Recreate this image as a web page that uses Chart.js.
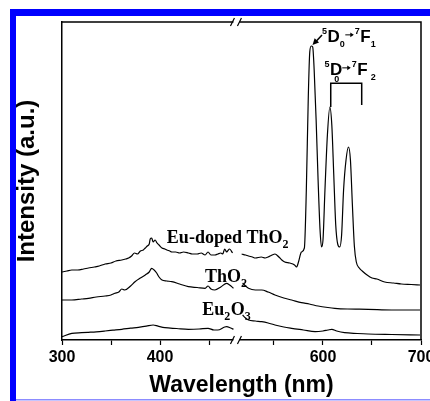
<!DOCTYPE html>
<html>
<head>
<meta charset="utf-8">
<script src="https://cdn.jsdelivr.net/npm/chart.js@4.4.0/dist/chart.umd.min.js"></script>
<style>
  html, body { margin: 0; padding: 0; background: #fff; overflow: hidden; }
  canvas { display: block; }
</style>
</head>
<body>
<canvas id="chart" width="460" height="401"></canvas>
<script>
// --- Broken x axis: points above BREAK_AT are moved left by BREAK_SHIFT ---
const BREAK_AT = 478;
const BREAK_SHIFT = 33.7;

// --- Data (wavelength nm / intensity a.u.) ---
const euDopedLeftNm  = [300, 305, 310, 316, 322, 327, 333, 338, 344, 350, 355, 361, 365, 368, 371, 374, 377, 380, 383, 385, 387, 389, 390, 391.5, 393, 395, 397, 399, 402, 405, 407, 410, 412, 416, 420, 424, 429, 433, 438, 442, 446, 449, 452, 456, 459, 462, 464, 466, 468, 469, 471, 474];
const euDopedLeftInt = [68, 69, 70, 70, 71, 72, 73, 74, 76, 77, 79, 80, 81, 82, 84, 87, 86, 89, 90, 92, 94, 96, 101, 102, 98, 100, 97, 95, 92, 91, 90, 89, 88, 88, 87, 88, 87, 86, 86, 87, 85, 88, 85, 85, 86, 87, 86, 91, 88, 89, 91, 87];
const euDopedRightNm  = [517, 521, 524, 528, 531, 537, 541, 544, 548, 551, 555, 558, 561, 566, 571, 573, 575, 578, 581, 583, 585, 586.5, 588, 589.5, 591, 593, 595, 597, 598.5, 600, 602, 604.5, 607, 609, 611, 613, 615, 617, 619, 621, 623.5, 626, 628, 630, 632, 634, 637, 640, 645, 650, 655, 663, 672, 680, 690, 699];
const euDopedRightInt = [86, 85, 84, 83, 82, 83, 82, 83, 85, 86, 83, 80, 78, 77, 75, 73, 78, 88, 92, 150, 243, 288, 294, 293, 270, 220, 160, 110, 93, 100, 150, 205, 233, 215, 165, 115, 96, 93, 105, 150, 180, 193, 180, 135, 94, 78, 72, 69, 65, 62, 61, 58, 57, 56, 55.5, 55];

const tho2LeftNm  = [300, 310, 320, 327, 335, 344, 350, 354, 358, 361, 364, 370, 374.5, 380, 385, 389, 391.5, 394, 396.6, 399, 402, 407, 412, 420, 429, 438, 446, 449, 452, 456, 462, 468, 471, 475];
const tho2LeftInt = [40, 40, 41, 41.7, 43, 44, 45, 46.7, 48, 51, 50, 54, 58.3, 62, 65, 68, 71.7, 70, 67, 63, 60, 59, 58.3, 56, 53.3, 52.5, 51.7, 54, 51, 50, 53, 56.7, 55, 51.7];
const tho2RightNm  = [518, 521, 524, 531, 537.5, 544, 551, 560, 568, 578, 586, 595, 605, 612, 625, 646, 670, 699];
const tho2RightInt = [57, 54, 51.7, 50, 50, 48, 45, 42, 40, 37.3, 36, 34, 32.5, 31.7, 31, 30.7, 30, 30];

const eu2o3LeftNm  = [300, 310, 320, 327, 335, 344, 352, 361, 370, 378, 386, 393, 398, 405, 417, 429, 440, 449, 455, 459, 466, 468, 472, 475];
const eu2o3LeftInt = [3.3, 6.7, 7.3, 7.7, 8.2, 9, 9.8, 10.7, 11.8, 12.7, 13.8, 15, 13.8, 12.3, 11.5, 10.7, 11, 11.7, 10, 10, 13, 13.3, 12, 10.7];
const eu2o3RightNm  = [518, 521, 524, 531, 537.5, 544, 551, 560, 568, 580, 592, 600, 605, 609, 614, 622, 635, 646, 670, 699];
const eu2o3RightInt = [25, 22, 20, 19, 18.3, 17, 15, 13, 11.7, 10, 8.3, 9, 10, 10.7, 9, 7.3, 6.5, 6, 5.5, 5];

// --- Axis ticks ---
const tickNm = [300, 350, 400, 450, 550, 600, 650, 700];
const labelNm = [300, 400, 600, 700];

const toAxis = nm => nm > BREAK_AT ? nm - BREAK_SHIFT : nm;
const fromAxis = u => u > BREAK_AT ? u + BREAK_SHIFT : u;

function buildSeries(lNm, lInt, rNm, rInt) {
  const pts = lNm.map((w, i) => ({ x: toAxis(w), y: lInt[i] }));
  pts.push({ x: BREAK_AT, y: null });
  rNm.forEach((w, i) => pts.push({ x: toAxis(w), y: rInt[i] }));
  return pts;
}

const SANS = '"Liberation Sans", Arial, sans-serif';
const SERIF = '"Liberation Serif", "Times New Roman", serif';

// --- Rich text helper (sub/superscripts) ---
function drawRich(c, parts, x, y, size, small, family) {
  let cx = x;
  parts.forEach(p => {
    const [t, kind, dx = 0, dy = 0, noAdv = false] = p;
    if (kind === 'arrow') {
      const ay = y - size * 0.42 + dy;
      c.beginPath();
      c.moveTo(cx, ay); c.lineTo(cx + 7, ay); c.stroke();
      c.beginPath();
      c.moveTo(cx + 8.5, ay); c.lineTo(cx + 5, ay - 2.3); c.lineTo(cx + 5, ay + 2.3); c.closePath(); c.fill();
      cx += 9.5;
      return;
    }
    let fy = y;
    if (kind === 'sup') { c.font = 'bold ' + small + 'px ' + family; fy = y - size * 0.45; }
    else if (kind === 'sub') { c.font = 'bold ' + small + 'px ' + family; fy = y + size * 0.3; }
    else c.font = 'bold ' + size + 'px ' + family;
    c.fillText(t, cx + dx, fy + dy);
    if (!noAdv) cx += c.measureText(t).width + (kind ? 0.5 : 0);
  });
}

const decor = {
  id: 'decor',
  beforeDraw(chart) {
    const c = chart.ctx;
    c.save();
    c.fillStyle = '#fff';
    c.fillRect(0, 0, chart.width, chart.height);
    c.fillStyle = '#0000ff';
    c.fillRect(10, 9, 6, chart.height - 9);
    c.fillRect(10, 9, chart.width - 10, 7);
    c.fillStyle = '#8c8cff';
    c.fillRect(16, 399, chart.width - 16, 1.5);
    c.restore();
  },
  afterDraw(chart) {
    const c = chart.ctx;
    const a = chart.chartArea;
    const xs = chart.scales.x, ys = chart.scales.y;
    const px = nm => xs.getPixelForValue(toAxis(nm));
    const py = v => ys.getPixelForValue(v);
    c.save();
    c.strokeStyle = '#000'; c.fillStyle = '#000';
    c.lineWidth = 1.5;
    // top and right frame
    c.beginPath();
    c.moveTo(a.left, a.top); c.lineTo(a.right, a.top); c.lineTo(a.right, a.bottom);
    c.stroke();
    // axis break marks
    const bx = xs.getPixelForValue(BREAK_AT);
    [a.top, a.bottom].forEach(by => {
      c.fillStyle = '#fff';
      c.fillRect(bx - 3, by - 2, 6, 4);
      c.fillStyle = '#000';
      c.lineWidth = 1.2;
      c.beginPath();
      c.moveTo(bx - 6, by + 4); c.lineTo(bx - 2, by - 4);
      c.moveTo(bx + 1, by + 4); c.lineTo(bx + 5, by - 4);
      c.stroke();
    });

    // sample labels
    c.textBaseline = 'alphabetic';
    c.textAlign = 'left';
    drawRich(c, [['Eu-doped ThO', ''], ['2', 'sub']], px(407), py(97), 18, 12, SERIF);
    drawRich(c, [['ThO', ''], ['2', 'sub']], px(446), py(58), 18, 12, SERIF);
    drawRich(c, [['Eu', ''], ['2', 'sub'], ['O', ''], ['3', 'sub']], px(443), py(25), 18, 12, SERIF);

    // transition labels
    c.lineWidth = 1;
    drawRich(c, [['5', 'sup'], ['D', ''], ['0', 'sub'], ['', 'arrow'], ['7', 'sup'], ['F', ''], ['1', 'sub']], px(599), py(298), 17, 9, SANS);
    drawRich(c, [['5', 'sup'], ['D', ''], ['0', 'sub', -8, 2, true], ['', 'arrow'], ['7', 'sup'], ['F', ''], [' ', 'sub'], ['2', 'sub']], px(601.5), py(265), 17, 9, SANS);

    // arrow to first peak
    c.lineWidth = 1.5;
    const x0 = px(599), y0 = py(305), x1 = px(589.3), y1 = py(295);
    c.beginPath(); c.moveTo(x0, y0); c.lineTo(x1 + 3, y1 - 3); c.stroke();
    const ang = Math.atan2(y1 - y0, x1 - x0);
    c.beginPath();
    c.moveTo(x1, y1);
    c.lineTo(x1 - 7 * Math.cos(ang - 0.45), y1 - 7 * Math.sin(ang - 0.45));
    c.lineTo(x1 - 7 * Math.cos(ang + 0.45), y1 - 7 * Math.sin(ang + 0.45));
    c.closePath(); c.fill();

    // bracket over 7F2 peaks
    c.lineWidth = 1.5;
    c.beginPath();
    c.moveTo(px(607.9), py(233)); c.lineTo(px(607.9), py(256.7));
    c.lineTo(px(639.5), py(256.7)); c.lineTo(px(639.5), py(235));
    c.stroke();
    c.restore();
  }
};

Chart.defaults.color = '#000';

const lineStyle = { borderColor: '#000', borderWidth: 1.2, pointRadius: 0, fill: false, spanGaps: false, cubicInterpolationMode: 'monotone' };

const chart = new Chart(document.getElementById('chart').getContext('2d'), {
  type: 'line',
  data: {
    datasets: [
      { label: 'Eu-doped ThO2', data: buildSeries(euDopedLeftNm, euDopedLeftInt, euDopedRightNm, euDopedRightInt), ...lineStyle },
      { label: 'ThO2', data: buildSeries(tho2LeftNm, tho2LeftInt, tho2RightNm, tho2RightInt), ...lineStyle },
      { label: 'Eu2O3', data: buildSeries(eu2o3LeftNm, eu2o3LeftInt, eu2o3RightNm, eu2o3RightInt), ...lineStyle }
    ]
  },
  options: {
    responsive: false,
    animation: false,
    layout: { padding: { left: 13, top: 22, right: 39, bottom: 2 } },
    plugins: { legend: { display: false }, tooltip: { enabled: false } },
    scales: {
      x: {
        type: 'linear',
        min: toAxis(300),
        max: toAxis(700),
        afterBuildTicks: s => { s.ticks = tickNm.map(w => ({ value: toAxis(w) })); },
        afterFit: s => { s.height = 59; },
        ticks: {
          autoSkip: false, maxRotation: 0, padding: 3,
          font: { family: SANS, size: 16, weight: 'bold' },
          callback: v => {
            const w = Math.round(fromAxis(v));
            return labelNm.includes(w) ? String(w) : '';
          }
        },
        grid: { drawOnChartArea: false, tickLength: 5, color: '#000', tickWidth: 1.2 },
        border: { color: '#000', width: 1.5 },
        title: {
          display: true, text: 'Wavelength (nm)', padding: 0,
          font: { family: SANS, size: 23, weight: 'bold' }
        }
      },
      y: {
        min: 0, max: 318,
        afterFit: s => { s.width = 49; },
        ticks: { display: false },
        grid: { drawOnChartArea: false, drawTicks: false },
        border: { color: '#000', width: 1.5 },
        title: {
          display: true, text: 'Intensity (a.u.)', padding: 0,
          font: { family: SANS, size: 24, weight: 'bold' }
        }
      }
    }
  },
  plugins: [decor]
});
</script>
</body>
</html>
